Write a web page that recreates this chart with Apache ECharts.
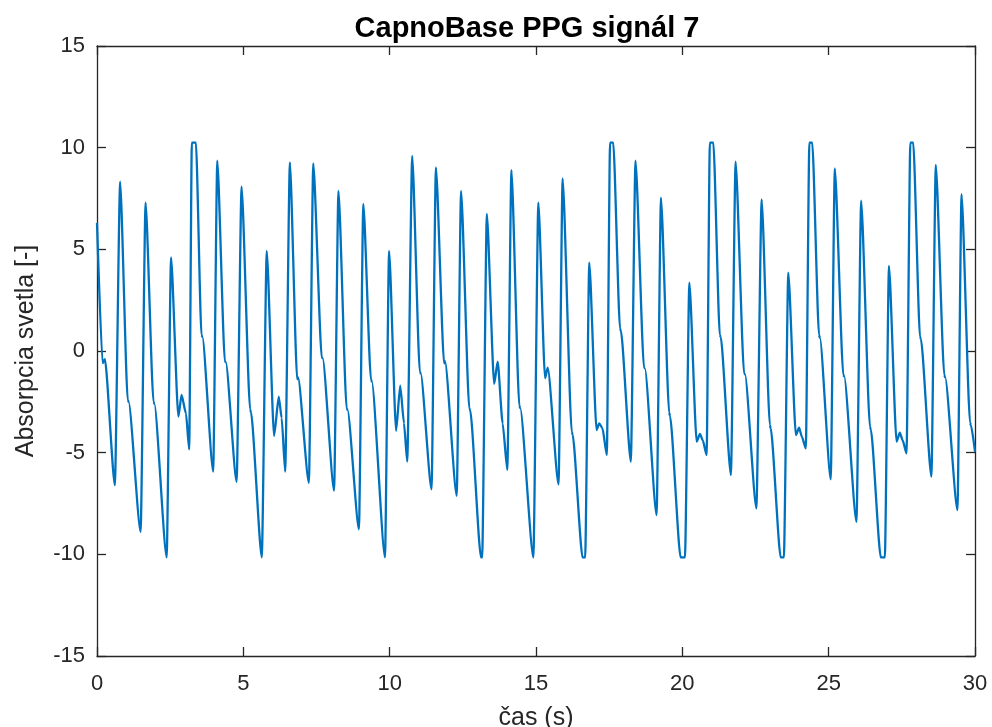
<!DOCTYPE html>
<html>
<head>
<meta charset="utf-8">
<title>CapnoBase PPG signál 7</title>
<script src="https://cdn.jsdelivr.net/npm/echarts@6/dist/echarts.min.js"></script>
<style>
  html, body { margin: 0; padding: 0; background: #fff; }
  #chart { width: 992px; height: 727px; }
</style>
</head>
<body>
<div id="chart"></div>
<script>
// casove body (s) - odcitane z obrazku
var times = [
  0.00, 0.19, 0.27, 0.61, 0.79, 1.05, 1.08, 1.49, 1.66, 1.93, 1.96, 2.38,
  2.53, 2.78, 2.89, 3.04, 3.15, 3.24, 3.38, 3.57, 3.60, 3.97, 4.11, 4.37,
  4.40, 4.77, 4.94, 5.23, 5.26, 5.63, 5.80, 6.05, 6.21, 6.31, 6.43, 6.59,
  6.84, 6.87, 7.24, 7.39, 7.68, 7.71, 8.10, 8.25, 8.53, 8.56, 8.95, 9.10,
  9.36, 9.39, 9.84, 9.98, 10.22, 10.36, 10.49, 10.60, 10.77, 11.03, 11.06, 11.43,
  11.58, 11.86, 11.89, 12.29, 12.44, 12.72, 12.75, 13.12, 13.16, 13.32, 13.57, 13.69,
  13.86, 14.02, 14.16, 14.43, 14.46, 14.91, 15.08, 15.31, 15.40, 15.77, 15.91, 16.22,
  16.25, 16.59, 16.68, 16.82, 17.07, 17.16, 17.27, 17.42, 17.53, 17.64, 17.87, 17.90,
  18.24, 18.40, 18.69, 18.72, 19.12, 19.27, 19.55, 19.58, 19.94, 20.09, 20.24, 20.49,
  20.60, 20.70, 20.83, 20.94, 21.06, 21.28, 21.31, 21.66, 21.82, 22.11, 22.14, 22.53,
  22.71, 22.99, 23.02, 23.36, 23.47, 23.62, 23.88, 23.99, 24.08, 24.22, 24.34, 24.44,
  24.67, 24.70, 25.07, 25.21, 25.50, 25.53, 25.95, 26.11, 26.41, 26.44, 26.78, 26.92,
  27.06, 27.32, 27.43, 27.53, 27.66, 27.79, 27.89, 28.12, 28.15, 28.51, 28.66, 28.95,
  28.98, 29.40, 29.54, 29.83, 29.86, 30.00
];
// absorpcia svetla [-]
var signal = [
  6.30, -0.60, -0.40, -6.60, 8.33, -2.41, -2.50, -8.89, 7.30, -2.49, -2.60, -10.15,
  4.60, -3.23, -2.16, -3.07, -4.84, 10.25, 10.25, 0.79, 0.70, -5.93, 9.36, -0.52,
  -0.55, -6.43, 8.08, -2.87, -3.00, -10.15, 4.92, -4.18, -2.25, -3.30, -5.93, 9.28,
  -1.39, -1.30, -6.48, 9.23, -0.33, -0.35, -6.87, 7.87, -2.82, -2.90, -8.77, 7.23,
  -1.39, -1.50, -10.15, 4.92, -3.93, -1.70, -3.56, -5.44, 9.59, -1.02, -1.10, -6.80,
  9.03, -0.61, -0.50, -7.12, 7.87, -2.82, -2.90, -10.15, -10.15, 6.74, -1.62, -0.52,
  -3.56, -5.85, 8.90, -2.69, -2.80, -10.15, 7.30, -1.34, -0.82, -6.56, 8.49, -3.97,
  -4.10, -10.15, -10.15, 4.34, -3.89, -3.56, -3.80, -5.12, 10.25, 10.25, 1.11, 1.00,
  -5.44, 9.36, -0.82, -0.85, -8.07, 7.54, -3.03, -3.20, -10.15, -10.15, 3.36, -4.46,
  -4.08, -4.40, -5.12, 10.25, 10.25, 0.79, 0.70, -6.10, 9.31, -1.10, -1.15, -7.74,
  7.46, -3.64, -3.80, -10.15, -10.15, 3.85, -4.13, -3.77, -4.20, -4.79, 10.25, 10.25,
  0.79, 0.65, -6.31, 8.98, -1.18, -1.25, -8.40, 7.39, -3.72, -3.85, -10.15, -10.15,
  4.18, -4.46, -4.02, -4.40, -5.03, 10.25, 10.25, 0.70, 0.60, -6.18, 9.15, -1.18,
  -1.30, -7.82, 7.71, -3.52, -3.65, -4.95
];
var xTicks = [0, 5, 10, 15, 20, 25, 30];
var yTicks = [-15, -10, -5, 0, 5, 10, 15];

var fontName = "'Liberation Sans', Arial, Helvetica, sans-serif";
var axisColor = '#262626';

var chartData = [];
for (var i = 0; i < times.length; i++) {
    chartData.push([times[i], signal[i]]);
}

//spolocne nastavenie osi (matlab styl - ramcek, ciarky dovnutra)
function makeAxis(pos, ticks, showLabel) {
    return {
        type: 'value',
        position: pos,
        min: ticks[0],
        max: ticks[ticks.length - 1],
        interval: ticks[1] - ticks[0],
        splitLine: { show: false },
        axisLine: { show: true, onZero: false, lineStyle: { color: axisColor, width: 1.3 } },
        axisTick: { show: true, inside: true, length: 9, lineStyle: { color: axisColor, width: 1.3 } },
        axisLabel: {
            show: showLabel,
            color: axisColor,
            fontFamily: fontName,
            fontSize: 22,
            margin: 12
        }
    };
}

var xBottom = makeAxis('bottom', xTicks, true);
xBottom.name = 'čas (s)';
xBottom.nameLocation = 'middle';
xBottom.nameGap = 50;
xBottom.nameTextStyle = { color: axisColor, fontFamily: fontName, fontSize: 25 };
xBottom.axisLabel.margin = 17;

var yLeft = makeAxis('left', yTicks, true);
yLeft.name = 'Absorpcia svetla [-]';
yLeft.nameLocation = 'middle';
yLeft.nameGap = 58;
yLeft.nameTextStyle = { color: axisColor, fontFamily: fontName, fontSize: 25 };

var myChart = echarts.init(document.getElementById('chart'), null, { renderer: 'canvas' });
var option = {
    backgroundColor: '#ffffff',
    animation: false,
    title: {
        text: 'CapnoBase PPG signál 7',
        left: 527,
        top: 14,
        padding: 0,
        textAlign: 'center',
        textStyle: { color: '#000', fontFamily: fontName, fontSize: 29, fontWeight: 'bold' }
    },
    grid: { left: 97, right: 17, top: 46, bottom: 71, containLabel: false, outerBoundsMode: 'none' },
    xAxis: [xBottom, makeAxis('top', xTicks, false)],
    yAxis: [yLeft, makeAxis('right', yTicks, false)],
    series: [{
        type: 'line',
        xAxisIndex: 0,
        yAxisIndex: 0,
        data: chartData,
        showSymbol: false,
        symbol: 'none',
        smooth: 0.2,
        smoothMonotone: 'x',
        lineStyle: { color: '#0072BD', width: 2.3 },
        z: 1
    }]
};
myChart.setOption(option);
</script>
</body>
</html>
